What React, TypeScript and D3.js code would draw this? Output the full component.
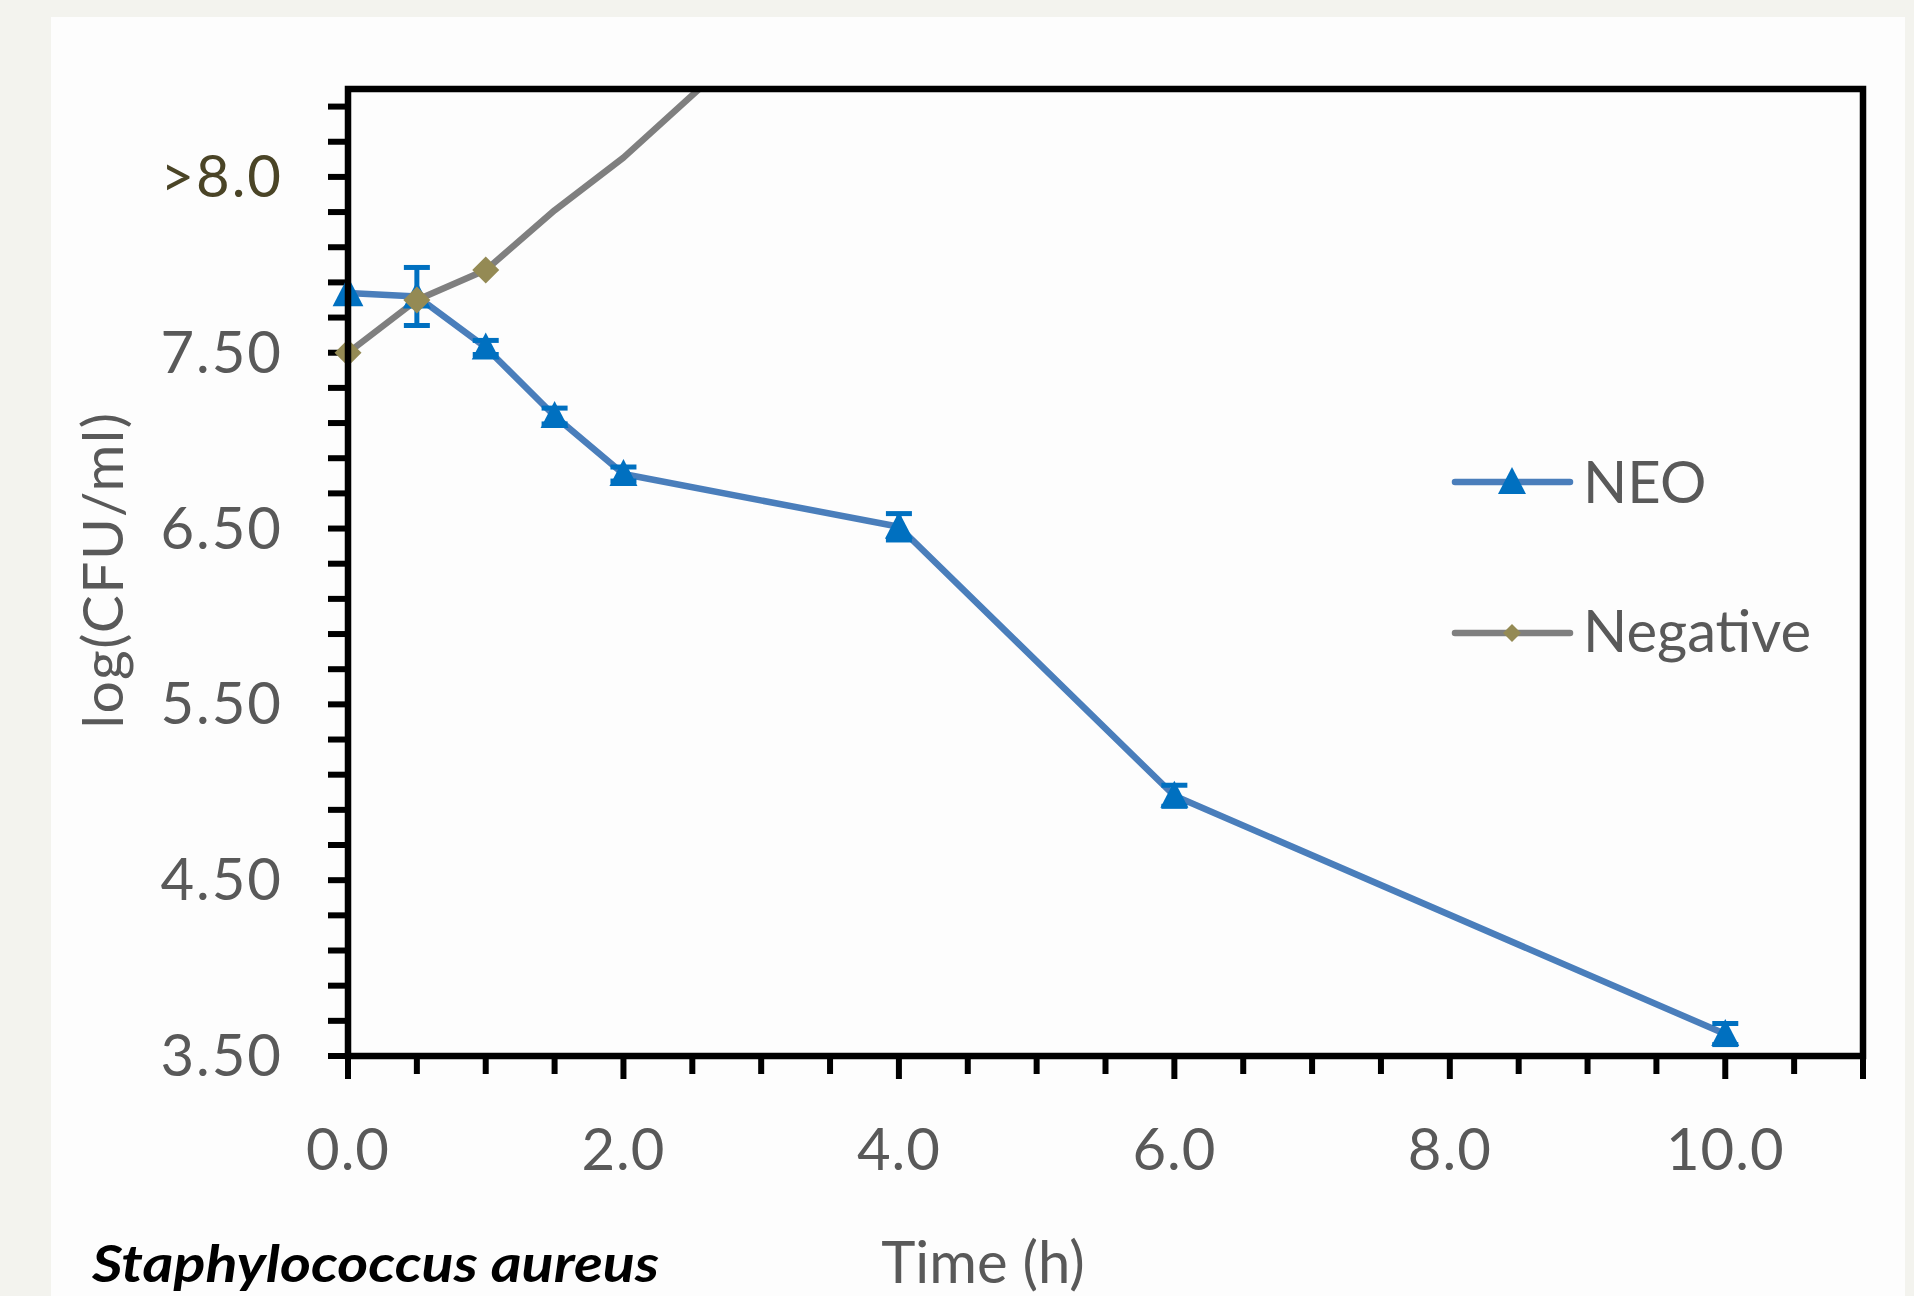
import React from "react";
import * as d3 from "d3";

// ---- data ----
const timeNEO = [0, 0.5, 1, 1.5, 2, 4, 6, 10];
const valueNEO = [7.84, 7.82, 7.53, 7.14, 6.81, 6.51, 4.98, 3.625];
const errorNEO = [0.01, 0.165, 0.04, 0.045, 0.04, 0.075, 0.06, 0.06];

const timeNeg = [0, 0.5, 1, 1.5, 2, 4];
const valueNeg = [7.5, 7.8, 7.97, 8.31, 8.61, 10.03];
const markerNeg = [true, true, true, false, false, false];

const xTickLabelValues = [0, 2, 4, 6, 8, 10];
const xTickLabels = ["0.0", "2.0", "4.0", "6.0", "8.0", "10.0"];
const yTickLabelValues = [3.5, 4.5, 5.5, 6.5, 7.5, 8.5];
const yTickLabels = ["3.50", "4.50", "5.50", "6.50", "7.50", ">8.0"];

const seriesNames = ["NEO", "Negative"];

// ---- layout ----
const W = 1914;
const H = 1296;
const plot = { left: 348, right: 1863, top: 89, bottom: 1056 };
const FONT = "Lato, 'Open Sans', sans-serif";

export default function App() {
  const x = d3.scaleLinear().domain([0, 11]).range([plot.left, plot.right]);
  const y = d3.scaleLinear().domain([3.5, 9.0]).range([plot.bottom, plot.top]);

  const xMinor = d3.range(0, 11.001, 0.5);
  const yMinor = d3.range(3.5, 8.95, 0.2);

  const neoPts = timeNEO.map((t, i) => [t, valueNEO[i]] as [number, number]);
  const negPts = timeNeg.map((t, i) => [t, valueNeg[i]] as [number, number]);
  const line = d3
    .line<[number, number]>()
    .x((d) => x(d[0]))
    .y((d) => y(d[1]));

  const triPath = (cx: number, cy: number, s = 1) =>
    `M${cx},${cy - 15 * s} L${cx + 14 * s},${cy + 12 * s} L${cx - 14 * s},${cy + 12 * s} Z`;
  const diamond = (cx: number, cy: number, r: number) =>
    `M${cx},${cy - r} L${cx + r},${cy} L${cx},${cy + r} L${cx - r},${cy} Z`;

  const legendY = [482, 633];

  return (
    <svg
      width={W}
      height={H}
      style={{ position: "absolute", left: 0, top: 0 }}
      fontFamily={FONT}
    >
      <defs>
        <clipPath id="plotClip">
          <rect
            x={plot.left}
            y={plot.top}
            width={plot.right - plot.left}
            height={plot.bottom - plot.top}
          />
        </clipPath>
      </defs>
      <rect x={0} y={0} width={W} height={H} fill="#f3f3ee" />
      <rect x={51} y={17} width={1905 - 51} height={H - 17} fill="#fdfdfd" />

      {/* y ticks */}
      {yMinor.map((v, i) => (
        <line
          key={"yt" + i}
          x1={plot.left - 20}
          x2={plot.left}
          y1={y(v)}
          y2={y(v)}
          stroke="#000"
          strokeWidth={6}
        />
      ))}
      {/* x ticks */}
      {xMinor.map((v, i) => {
        const major = Math.abs(v % 2) < 1e-6 || Math.abs(v - 11) < 1e-6;
        return (
          <line
            key={"xt" + i}
            x1={x(v)}
            x2={x(v)}
            y1={plot.bottom}
            y2={plot.bottom + (major ? 23 : 18)}
            stroke="#000"
            strokeWidth={6}
          />
        );
      })}

      {/* series */}
      <g clipPath="url(#plotClip)">
        <path d={line(negPts) || ""} fill="none" stroke="#7f7f7f" strokeWidth={6.5} strokeLinejoin="round" />
        <path d={line(neoPts) || ""} fill="none" stroke="#4a7ebb" strokeWidth={6.5} strokeLinejoin="round" />
      </g>
      {negPts.map((d, i) =>
        markerNeg[i] && i !== 1 ? (
          <path key={"nm" + i} d={diamond(x(d[0]), y(d[1]), 13.5)} fill="#948a54" />
        ) : null
      )}
      {neoPts.map((d, i) =>
        errorNEO[i] > 0.02 ? (
          <g key={"eb" + i} stroke="#0070c0" strokeWidth={5}>
            <line x1={x(d[0])} x2={x(d[0])} y1={y(d[1] + errorNEO[i])} y2={y(d[1] - errorNEO[i])} />
            <line x1={x(d[0]) - 13} x2={x(d[0]) + 13} y1={y(d[1] + errorNEO[i])} y2={y(d[1] + errorNEO[i])} />
            <line x1={x(d[0]) - 13} x2={x(d[0]) + 13} y1={y(d[1] - errorNEO[i])} y2={y(d[1] - errorNEO[i])} />
          </g>
        ) : null
      )}
      {neoPts.map((d, i) => (
        <path key={"tm" + i} d={triPath(x(d[0]), y(d[1]), i === 0 ? 1.1 : 1)} fill="#0070c0" />
      ))}
      {negPts.map((d, i) =>
        markerNeg[i] && i === 1 ? (
          <path key={"nm2" + i} d={diamond(x(d[0]), y(d[1]), 13.5)} fill="#948a54" />
        ) : null
      )}

      {/* frame */}
      <rect
        x={plot.left}
        y={plot.top}
        width={plot.right - plot.left}
        height={plot.bottom - plot.top}
        fill="none"
        stroke="#000"
        strokeWidth={6.5}
      />

      {/* y labels */}
      {yTickLabelValues.map((v, i) => (
        <text
          key={"yl" + i}
          x={283}
          y={y(v) + 20}
          textAnchor="end"
          fontSize={58}
          fill={i === yTickLabels.length - 1 ? "#4a4426" : "#595959"}
          letterSpacing={2}
        >
          {yTickLabels[i]}
        </text>
      ))}
      {/* x labels */}
      {xTickLabelValues.map((v, i) => (
        <text
          key={"xl" + i}
          x={x(v)}
          y={1170}
          textAnchor="middle"
          fontSize={58}
          fill="#595959"
          letterSpacing={1}
        >
          {xTickLabels[i]}
        </text>
      ))}

      {/* axis titles */}
      <text
        transform="translate(123,570) rotate(-90)"
        textAnchor="middle"
        fontSize={57}
        fill="#595959"
        letterSpacing={1.5}
      >
        log(CFU/ml)
      </text>
      <text x={983} y={1283} textAnchor="middle" fontSize={58} fill="#595959">
        Time (h)
      </text>
      <text
        x={92}
        y={1282}
        fontSize={52}
        fontWeight="bold"
        fontStyle="italic"
        fill="#000"
        textLength={567}
        lengthAdjust="spacingAndGlyphs"
      >
        Staphylococcus aureus
      </text>

      {/* legend */}
      <line x1={1455} x2={1570} y1={legendY[0]} y2={legendY[0]} stroke="#4a7ebb" strokeWidth={6.5} strokeLinecap="round" />
      <path d={triPath(1512, legendY[0], 1)} fill="#0070c0" />
      <text x={1583} y={legendY[0] + 21} fontSize={58} fill="#595959">
        {seriesNames[0]}
      </text>
      <line x1={1455} x2={1570} y1={legendY[1]} y2={legendY[1]} stroke="#7f7f7f" strokeWidth={6.5} strokeLinecap="round" />
      <path d={diamond(1512, legendY[1], 9)} fill="#948a54" />
      <text x={1583} y={legendY[1] + 19} fontSize={58} fill="#595959">
        {seriesNames[1]}
      </text>
    </svg>
  );
}
